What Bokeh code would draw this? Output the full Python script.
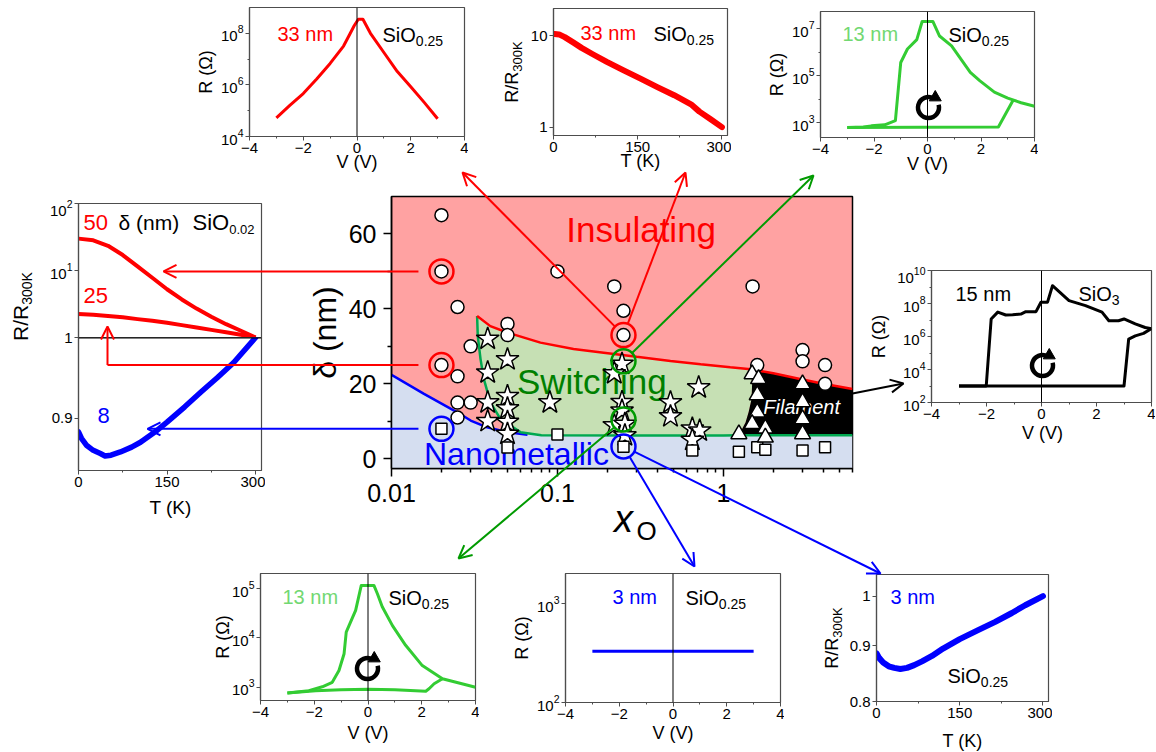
import math
from bokeh.plotting import figure
from bokeh.models import (Range1d, FixedTicker, LogTickFormatter, CustomJSTickFormatter,
                          Span, Arrow, OpenHead)
from bokeh.core.properties import value
from bokeh.embed import file_html
from bokeh.resources import INLINE

PAGE_W, PAGE_H = 1156, 752
FONT = "Liberation Sans"

# ---------------- phase diagram: x_O vs delta (nm) ----------------
circle_x = [0.02, 0.02, 0.025, 0.02, 0.025, 0.025, 0.025, 0.03, 0.03, 0.05, 0.05, 0.1,
            0.22, 0.25, 0.25, 1.5, 1.6, 3.0, 3.0, 4.1, 4.1]
circle_y = [65, 50, 40.5, 25, 22, 15, 11, 15, 30, 36, 33, 50, 46, 39.5, 33, 46, 25, 29, 26, 25, 20]
star_x = [0.038, 0.038, 0.038, 0.038, 0.05, 0.05, 0.05, 0.05, 0.05, 0.09,
          0.245, 0.22, 0.245, 0.245, 0.22, 0.255, 0.255, 0.48, 0.48, 0.71, 0.65, 0.72, 0.65]
star_y = [32, 23, 15, 10, 26.5, 16.7, 13.4, 9.8, 6.6, 15,
          25.3, 22.8, 15.1, 12.8, 8.9, 9.3, 6.2, 15, 11.3, 19, 8, 7.5, 5]
square_x = [0.02, 0.05, 0.1, 0.25, 0.65, 1.24, 1.6, 1.79, 3.0, 4.1]
square_y = [8, 3, 6.5, 3.2, 2.2, 1.9, 3.1, 2.4, 2.2, 3.1]
triangle_x = [1.49, 1.63, 1.6, 1.6, 1.49, 1.79, 1.24, 1.79, 3.0, 3.0, 3.0, 3.0]
triangle_y = [22.6, 21.3, 17, 12.4, 9.3, 8.1, 6.6, 5.7, 19.9, 15.1, 10.6, 6.6]

# highlighted samples (rings)
red_ring_x, red_ring_y = [0.02, 0.02, 0.25], [50, 25, 33]
green_ring_x, green_ring_y = [0.25, 0.25], [26, 10.5]
blue_ring_x, blue_ring_y = [0.02, 0.25], [8, 3.3]

# phase boundaries
blue_x = [0.01, 0.0157, 0.0249, 0.030, 0.0377, 0.0498, 0.066]
blue_y = [22.4, 17.3, 12.4, 10.2, 8.4, 7.1, 6.4]
red_x = [0.0328, 0.0394, 0.0498, 0.079, 0.125, 0.19, 0.3, 0.48, 0.73, 1.1, 1.46, 2.0, 2.9, 4.0, 6.0]
red_y = [38.1, 35.4, 33.7, 31.0, 29.3, 28.3, 27.2, 26.1, 25.2, 24.4, 23.9, 22.8, 21.3, 20.0, 18.6]
fil_x = [1.46, 1.49, 1.48, 1.42, 1.36, 1.28, 1.24]
fil_y = [23.9, 20.0, 16.0, 12.5, 9.7, 7.5, 6.3]
sw_left_x = [0.0328, 0.0331, 0.0344, 0.036, 0.0394, 0.0454, 0.0598, 0.08]
sw_left_y = [38.1, 32.8, 26.6, 21.3, 15.1, 10.6, 7.1, 6.3]
floor_x = [0.08, 0.3, 1.0, 1.24, 6.0]
floor_y = [6.3, 6.2, 6.2, 6.25, 6.3]

# ---------------- inset curves ----------------
# 33 nm SiO0.25, R(V)
a_v = [-3, -2.5, -2, -1.5, -1, -0.5, -0.25, -0.1, 0.05, 0.22, 0.5, 1.0, 1.5, 2.0, 2.5, 3.0]
a_r = [5.3e4, 1.6e5, 4.6e5, 1.7e6, 6.8e6, 3.2e7, 1.0e8, 2.0e8, 3.5e8, 3.5e8, 1.0e8, 1.8e7,
       3.3e6, 8.5e5, 2.1e5, 4.9e4]
# 33 nm SiO0.25, R/R300K(T)
b_t = [2, 10, 20, 35, 50, 70, 95, 125, 155, 185, 215, 245, 260, 280, 300]
b_r = [10.5, 10.4, 9.7, 8.5, 7.4, 6.3, 5.2, 4.2, 3.4, 2.75, 2.24, 1.78, 1.48, 1.22, 1.0]
# 13 nm SiO0.25, R(V) loop (wide range)
c_v_up = [-3.0, -2.4, -2.1, -1.6, -1.2, -1.0, -0.75, -0.4, -0.2, 0.2, 0.45, 0.9, 1.6, 1.95,
          2.5, 3.0, 3.5, 4.0]
c_r_up = [610, 650, 720, 800, 1200, 3.7e5, 1.4e6, 3.5e6, 2.1e7, 2.1e7, 5.0e6, 1.9e6, 1.4e5,
          6.2e4, 2.0e4, 1.1e4, 7.0e3, 5.0e3]
c_v_low = [3.2, 2.65, -3.0]
c_r_low = [9.0e3, 650, 610]
# SiO0.02, R/R300K(T) for delta = 50, 25, 8 nm
d_t = [0, 25, 50, 75, 100, 125, 150, 175, 200, 225, 250, 275, 300]
d_50 = [29.9, 28.2, 23.4, 17.0, 11.5, 7.8, 5.25, 3.7, 2.7, 2.04, 1.58, 1.26, 1.0]
d_25 = [2.24, 2.19, 2.09, 2.0, 1.88, 1.78, 1.66, 1.53, 1.41, 1.30, 1.20, 1.10, 1.0]
d8_t = [0, 5, 14, 25, 37, 45, 55, 71, 90, 105, 130, 150, 180, 207, 235, 263, 300]
d_8 = [0.883, 0.875, 0.866, 0.860, 0.856, 0.853, 0.854, 0.858, 0.864, 0.870, 0.883, 0.895,
       0.914, 0.932, 0.950, 0.969, 1.0]
# 15 nm SiO3, R(V) loop
e_v_up = [-3.0, -2.01, -1.83, -1.59, -1.3, -1.05, -0.75, -0.57, -0.2, -0.02, 0.22, 0.4, 1.0,
          1.6, 2.2, 2.45, 2.8, 3.0, 3.41, 3.77, 4.0]
e_r_up = [1.0e3, 1.0e3, 1.15e7, 3.0e7, 2.0e7, 2.1e7, 2.3e7, 3.2e7, 3.2e7, 1.2e8, 1.2e8, 1.2e9,
          1.5e8, 7.4e7, 3.0e7, 9.0e6, 9.0e6, 1.15e7, 5.8e6, 3.5e6, 3.0e6]
e_v_low = [4.0, 3.71, 3.41, 3.17, 3.0, -3.0]
e_r_low = [3.0e6, 1.55e6, 1.1e6, 7.0e5, 1.0e3, 1.0e3]
# 13 nm SiO0.25, R(V) loop (narrow range)
f_v_up = [-3.0, -2.2, -1.7, -1.33, -1.08, -0.89, -0.81, -0.65, -0.46, -0.25, 0.22, 0.35, 0.53,
          0.91, 1.4, 2.02, 2.77, 4.0]
f_r_up = [760, 850, 1020, 1260, 2190, 4790, 1.32e4, 2.09e4, 3.63e4, 1.17e5, 1.17e5, 7.9e4,
          4.3e4, 1.78e4, 7.1e3, 2.75e3, 1.48e3, 1.0e3]
f_v_low = [2.77, 2.46, 2.27, 2.15, 1.0, 0.0, -1.0, -1.95, -3.0]
f_r_low = [1480, 1175, 930, 830, 890, 910, 890, 850, 760]
# 3 nm SiO0.25, R(V)
g_v = [-3.0, 3.0]
g_r = [330, 330]
# 3 nm SiO0.25, R/R300K(T)
h_t = [0, 5, 12, 22, 32, 43, 55, 68, 82, 100, 120, 150, 184, 214, 244, 268, 300]
h_r = [0.886, 0.877, 0.869, 0.862, 0.859, 0.857, 0.859, 0.864, 0.871, 0.881, 0.895, 0.913,
       0.931, 0.947, 0.965, 0.981, 1.0]

PINK, GREEN_BG, BLUE_BG = "#FFA2A2", "#C6E0B4", "#D5DEF0"
LINE_GREEN, ARROW_GREEN, LOOP_GREEN, TEXT_GREEN = "#00A850", "#009A00", "#33CC33", "#72D872"


def place(p, left, top):
    """Pin a figure at an absolute page position (each figure is its own root)."""
    p.styles = {"position": "absolute", "left": f"{left}px", "top": f"{top}px"}


# ---------------- main figure ----------------
MAIN_L, MAIN_T, MAIN_W, MAIN_H = 391, 196, 461, 272
MAIN_XR, MAIN_YR = (0.01, 6.0), (-2.6, 70.0)
ML, MR, MT, MB = 80, 6, 6, 50

main = figure(width=MAIN_W + ML + MR, height=MAIN_H + MT + MB, x_axis_type="log",
              x_range=Range1d(*MAIN_XR), y_range=Range1d(*MAIN_YR),
              output_backend="svg", toolbar_location=None, title=None,
              min_border_left=ML, min_border_right=MR, min_border_top=MT, min_border_bottom=MB)
place(main, MAIN_L - ML, MAIN_T - MT)
main.background_fill_color = PINK
main.border_fill_color = None
main.outline_line_color = "black"
main.outline_line_width = 1.5
main.grid.visible = False

split = red_x.index(fil_x[0])
floor_before = [(x, y) for x, y in zip(floor_x, floor_y) if x < fil_x[-1]]
switch_px = red_x[:split + 1] + fil_x[1:] + [x for x, _ in reversed(floor_before)] + sw_left_x[-2::-1]
switch_py = red_y[:split + 1] + fil_y[1:] + [y for _, y in reversed(floor_before)] + sw_left_y[-2::-1]
fil_px = red_x[split:] + [floor_x[-1]] + fil_x[::-1]
fil_py = red_y[split:] + [floor_y[-1]] + fil_y[::-1]
nano_px = blue_x + [x for x in floor_x if x > blue_x[-1]] + [MAIN_XR[1], MAIN_XR[0]]
nano_py = blue_y + [y for x, y in zip(floor_x, floor_y) if x > blue_x[-1]] + [MAIN_YR[0] - 5] * 2

main.patch(nano_px, nano_py, fill_color=BLUE_BG, line_color=None)
main.patch(switch_px, switch_py, fill_color=GREEN_BG, line_color=None)
main.patch(fil_px, fil_py, fill_color="black", line_color=None)
main.line(blue_x, blue_y, line_color="blue", line_width=2.5)
main.line(sw_left_x + floor_x[1:], sw_left_y + floor_y[1:], line_color=LINE_GREEN, line_width=2.5)
main.line(red_x, red_y, line_color="red", line_width=2.5)


def region_label(x, y, s, color, size, style="normal"):
    main.text(x=[x], y=[y], text=[s], text_font=value(FONT), text_font_size=f"{size}px",
              text_color=color, text_align="left", text_baseline="middle",
              text_font_style=style)


region_label(0.113, 61.3, "Insulating", "red", 35)
region_label(0.057, 20.6, "Switching", "#008000", 35)
region_label(0.0157, 1.2, "Nanometallic", "blue", 32)

main.scatter(circle_x, circle_y, marker="circle", size=13, fill_color="white",
             line_color="black", line_width=1.5)
main.scatter(star_x, star_y, marker="star", size=24, fill_color="white",
             line_color="black", line_width=1.5)
main.scatter(square_x, square_y, marker="square", size=11, fill_color="white",
             line_color="black", line_width=1.5)
region_label(1.74, 13.8, "Filament", "white", 20, "italic")
main.scatter(triangle_x, triangle_y, marker="triangle", size=16, fill_color="white",
             line_color="black", line_width=1.5)
main.scatter(red_ring_x, red_ring_y, marker="circle", size=24, fill_color=None,
             line_color="red", line_width=2.5)
main.scatter(green_ring_x, green_ring_y, marker="circle", size=24, fill_color=None,
             line_color=ARROW_GREEN, line_width=2.5)
main.scatter(blue_ring_x, blue_ring_y, marker="circle", size=24, fill_color=None,
             line_color="blue", line_width=2.5)

main.xaxis.ticker = FixedTicker(
    ticks=[0.01, 0.1, 1],
    minor_ticks=[m * d for d in (0.01, 0.1, 1) for m in range(2, 10) if m * d <= 6.0])
main.xaxis.formatter = CustomJSTickFormatter(code="return tick.toString();")
main.yaxis.ticker = FixedTicker(ticks=[0, 20, 40, 60], minor_ticks=[10, 30, 50])
for ax in main.axis:
    ax.axis_line_width = 1.5
    ax.major_tick_line_width = 1.5
    ax.minor_tick_line_width = 1.5
    ax.major_tick_in, ax.major_tick_out = 0, 8
    ax.minor_tick_in, ax.minor_tick_out = 0, 4
    ax.major_label_standoff = 7
    ax.major_label_text_font = FONT
    ax.major_label_text_font_size = "25px"
    ax.major_label_text_color = "black"


def main_px(x, y):
    """Page position of a point of the phase diagram."""
    lx = (math.log10(x) - math.log10(MAIN_XR[0])) / (math.log10(MAIN_XR[1]) - math.log10(MAIN_XR[0]))
    ly = (MAIN_YR[1] - y) / (MAIN_YR[1] - MAIN_YR[0])
    return MAIN_L + lx * MAIN_W, MAIN_T + ly * MAIN_H


# ---------------- insets ----------------
BL, BR, IT, IB = 60, 4, 4, 30
V_TICKS = dict(ticks=[-4, -2, 0, 2, 4], minor_ticks=[-3, -1, 1, 3])
T_TICKS = dict(ticks=[0, 150, 300], minor_ticks=[75, 225])
PLAIN = "return tick.toString();"
FRAME = "#4d4d4d"


def inset(left, top, w, h, xr, yr, ylog, xticks, yticks, yminor=(), yfmt=None,
          show_x=True, bt=IT, bb=IB):
    p = figure(width=w + BL + BR, height=h + bt + bb, x_range=Range1d(*xr), y_range=Range1d(*yr),
               y_axis_type="log" if ylog else "linear", output_backend="svg",
               toolbar_location=None, title=None, min_border_left=BL, min_border_right=BR,
               min_border_top=bt, min_border_bottom=bb,
               x_axis_location="below" if show_x else None)
    place(p, left - BL, top - bt)
    p.background_fill_color = "white"
    p.border_fill_color = None
    p.outline_line_color = FRAME
    p.outline_line_width = 1.2
    p.grid.visible = False
    if show_x:
        p.xaxis.ticker = FixedTicker(**xticks)
    p.yaxis.ticker = FixedTicker(ticks=list(yticks), minor_ticks=list(yminor))
    if yfmt is not None:
        p.yaxis.formatter = yfmt
    for ax in p.axis:
        ax.axis_line_color = FRAME
        ax.axis_line_width = 1.2
        ax.major_tick_line_color = FRAME
        ax.minor_tick_line_color = FRAME
        ax.major_tick_in, ax.major_tick_out = 0, 4
        ax.minor_tick_in, ax.minor_tick_out = 0, 2
        ax.major_label_standoff = 2
        ax.major_label_text_font = FONT
        ax.major_label_text_font_size = "15px"
        ax.major_label_text_color = "black"
    return p


def zero_line(p):
    p.add_layout(Span(location=0, dimension="height", line_color="black", line_width=1))


pA = inset(249, 7, 215, 129, (-4, 4), (1e4, 1e9), True, V_TICKS, [1e4, 1e6, 1e8], [1e5, 1e7])
zero_line(pA)
pA.line(a_v, a_r, line_color="red", line_width=3, line_join="round")

pB = inset(553, 8, 174, 127, (0, 310), (0.81, 20), True, T_TICKS, [1, 10],
           yfmt=CustomJSTickFormatter(code=PLAIN))
pB.line(b_t, b_r, line_color="red", line_width=6, line_join="round", line_cap="round")

pC = inset(820, 11, 214, 126, (-4, 4), (229, 5.6e7), True, V_TICKS, [1e3, 1e5, 1e7], [1e4, 1e6])
zero_line(pC)
pC.line(c_v_up, c_r_up, line_color=LOOP_GREEN, line_width=3, line_join="round")
pC.line(c_v_low, c_r_low, line_color=LOOP_GREEN, line_width=3, line_join="round")

pD1 = inset(78, 203, 183, 134, (0, 310), (1, 100), True, T_TICKS, [1, 10, 100],
            yfmt=LogTickFormatter(min_exponent=1), show_x=False, bb=12)
pD1.line(d_t, d_50, line_color="red", line_width=4, line_join="round")
pD1.line(d_t, d_25, line_color="red", line_width=4, line_join="round")

pD2 = inset(78, 337, 183, 133, (0, 310), (0.835, 1.0), False, T_TICKS, [0.9], bt=4,
            yfmt=CustomJSTickFormatter(code=PLAIN))
pD2.line(d8_t, d_8, line_color="blue", line_width=5.5, line_join="round", line_cap="round")
pD2.add_layout(Span(location=1.0, dimension="width", line_color="black", line_width=2))

pE = inset(931, 270, 220, 132, (-4, 4), (1e2, 1e10), True, V_TICKS,
           [1e2, 1e4, 1e6, 1e8, 1e10], [1e3, 1e5, 1e7, 1e9])
zero_line(pE)
pE.line(e_v_up, e_r_up, line_color="black", line_width=3, line_join="round")
pE.line(e_v_low, e_r_low, line_color="black", line_width=3, line_join="round")

pF = inset(260, 573, 215, 127, (-4, 4), (537, 2.04e5), True, V_TICKS, [1e3, 1e4, 1e5])
zero_line(pF)
pF.line(f_v_up, f_r_up, line_color=LOOP_GREEN, line_width=3, line_join="round")
pF.line(f_v_low, f_r_low, line_color=LOOP_GREEN, line_width=3, line_join="round")

pG = inset(565, 573, 215, 129, (-4, 4), (100, 2020), True, V_TICKS, [100, 1000])
zero_line(pG)
pG.line(g_v, g_r, line_color="blue", line_width=3)

pH = inset(876, 574, 172, 127, (0, 310), (0.8, 1.047), True, T_TICKS, [0.8, 0.9, 1.0],
           yfmt=CustomJSTickFormatter(code=PLAIN))
pH.line(h_t, h_r, line_color="blue", line_width=6, line_join="round", line_cap="round")

# ---------------- overlay: titles, annotations, arrows (page pixel coordinates) ----------------
ov = figure(width=PAGE_W, height=PAGE_H, x_range=Range1d(0, PAGE_W), y_range=Range1d(0, PAGE_H),
            output_backend="svg", toolbar_location=None, title=None, min_border=0,
            x_axis_location=None, y_axis_location=None)
place(ov, 0, 0)
ov.outline_line_color = None
ov.background_fill_color = None
ov.border_fill_color = None
ov.grid.visible = False

ADV = {"0": .556, "1": .556, "2": .556, "3": .556, "5": .556, "8": .556, ".": .278, "S": .667,
       "i": .222, "O": .778, "R": .722, "/": .278, "K": .667, " ": .278, "n": .556, "m": .833,
       "(": .333, ")": .333, "x": .5}


def tw(s, size):
    return sum(ADV.get(c, .556) for c in s) * size


def put(x, y, s, size, color="black", align="left", angle=0.0, font=FONT, style="normal"):
    ov.text(x=[x], y=[PAGE_H - y], text=[s], text_font=value(font), text_font_size=f"{size}px",
            text_color=color, text_align=align, text_baseline="middle", angle=angle,
            text_font_style=style)


def put_sub(x, y, s, sub, size=20, sub_size=14, color="black"):
    put(x, y, s, size, color)
    put(x + tw(s, size), y + 0.3 * size, sub, sub_size, color)


def put_vsub(cx, cy, s, sub, size=18, sub_size=13):
    w1, w2 = tw(s, size), tw(sub, sub_size)
    start = cy + (w1 + w2) / 2
    put(cx, start - w1 / 2, s, size, align="center", angle=math.pi / 2)
    put(cx + 0.3 * size, start - w1 - w2 / 2, sub, sub_size, align="center", angle=math.pi / 2)


def vtitle(cx, cy, s, size=18):
    put(cx, cy, s, size, align="center", angle=math.pi / 2)


def htitle(cx, cy, s, size=18):
    put(cx, cy, s, size, align="center")


def loop_mark(cx, cy, r=10.5):
    """Clockwise sweep symbol: open circle with an arrowhead at its upper-right end."""
    gap_end, gap_start = math.radians(60), math.radians(15)
    ov.arc(x=[cx], y=[PAGE_H - cy], radius=r, start_angle=gap_end, end_angle=gap_start,
           direction="anticlock", line_color="black", line_width=4.5)
    hx, hy = cx + r * math.cos(gap_end), cy - r * math.sin(gap_end)
    ov.scatter(x=[hx + 1.5], y=[PAGE_H - hy + 1], marker="triangle", size=12,
               angle=-math.radians(120), fill_color="black", line_color="black")


# axis titles
vtitle(205, 71.5, "R (\u03a9)"); htitle(356.5, 161, "V (V)")
put_vsub(511.7, 71.5, "R/R", "300K"); htitle(640, 160, "T (K)")
vtitle(776.7, 74, "R (\u03a9)"); htitle(927, 163, "V (V)")
put_vsub(20, 306, "R/R", "300K", size=21, sub_size=14); htitle(170, 507, "T (K)", 19)
vtitle(878, 336, "R (\u03a9)"); htitle(1042, 432, "V (V)")
vtitle(222, 636.5, "R (\u03a9)"); htitle(367.5, 732, "V (V)")
vtitle(521.7, 637.5, "R (\u03a9)"); htitle(672.5, 732, "V (V)")
put_vsub(831.7, 637.5, "R/R", "300K"); htitle(962, 740, "T (K)")
vtitle(324, 332, "\u03b4 (nm)", 32)
put(623, 518, "x", 38, align="center", style="italic")
put(636, 530, "O", 26)

# in-panel annotations
put(277, 33, "33 nm", 20, "red"); put_sub(382, 34, "SiO", "0.25")
put(580, 32, "33 nm", 20, "red"); put_sub(653, 33, "SiO", "0.25")
put(842, 33, "13 nm", 20, TEXT_GREEN); put_sub(948, 34, "SiO", "0.25"); loop_mark(928, 107)
put(83, 222, "50", 22, "red"); put(118, 222, "\u03b4 (nm)", 21)
put_sub(192, 222, "SiO", "0.02", 22, 13)
put(83, 295, "25", 22, "red"); put(97, 415, "8", 22, "blue")
put(955, 293, "15 nm", 20); put_sub(1078, 293, "SiO", "3"); loop_mark(1042, 365)
put(282, 596, "13 nm", 20, TEXT_GREEN); put_sub(388, 597, "SiO", "0.25"); loop_mark(367, 668)
put(612, 596, "3 nm", 20, "blue"); put_sub(685, 597, "SiO", "0.25")
put(890, 596, "3 nm", 20, "blue"); put_sub(947, 675, "SiO", "0.25")

# arrows from highlighted samples to the panels showing their data
RING_R = 12
arrow_specs = [
    # (x_O, delta, tip x, tip y (None: same height), colour, start offset)
    (0.02, 50, 163, None, "red", 23),
    (0.02, 8, 147, None, "blue", 23),
    (0.25, 33, 462, 172, "red", RING_R),
    (0.25, 33, 685, 172, "red", RING_R),
    (0.25, 26, 813, 175, ARROW_GREEN, RING_R),
    (0.25, 10.5, 458, 558, ARROW_GREEN, RING_R),
    (0.25, 3.3, 694, 566, "blue", RING_R),
    (0.25, 3.3, 880, 573, "blue", RING_R),
]


def arrow(x0, y0, x1, y1, color):
    ov.add_layout(Arrow(end=OpenHead(size=13, line_color=color, line_width=2),
                        x_start=x0, y_start=PAGE_H - y0, x_end=x1, y_end=PAGE_H - y1,
                        line_color=color, line_width=2))


for xo, dl, tx, ty, col, off in arrow_specs:
    cx, cy = main_px(xo, dl)
    ty = cy if ty is None else ty
    dx, dy = tx - cx, ty - cy
    n = math.hypot(dx, dy)
    arrow(cx + off * dx / n, cy + off * dy / n, tx, ty, col)

# delta = 25 nm: elbow arrow into the left panel
cx25, cy25 = main_px(0.02, 25)
ov.line([cx25 - 23, 107], [PAGE_H - cy25, PAGE_H - cy25], line_color="red", line_width=2)
arrow(107, cy25, 107, 326, "red")

# filament region to the SiO3 panel
fx, fy = main_px(MAIN_XR[1], 17.4)
arrow(fx, fy, 903, 383, "black")

# independent roots: each figure keeps its own borders; the overlay is drawn last, on top
roots = [pD1, pD2, pA, pB, pC, pE, pF, pG, pH, main, ov]
with open("out.html", "w", encoding="utf-8") as fh:
    fh.write(file_html(roots, INLINE))
